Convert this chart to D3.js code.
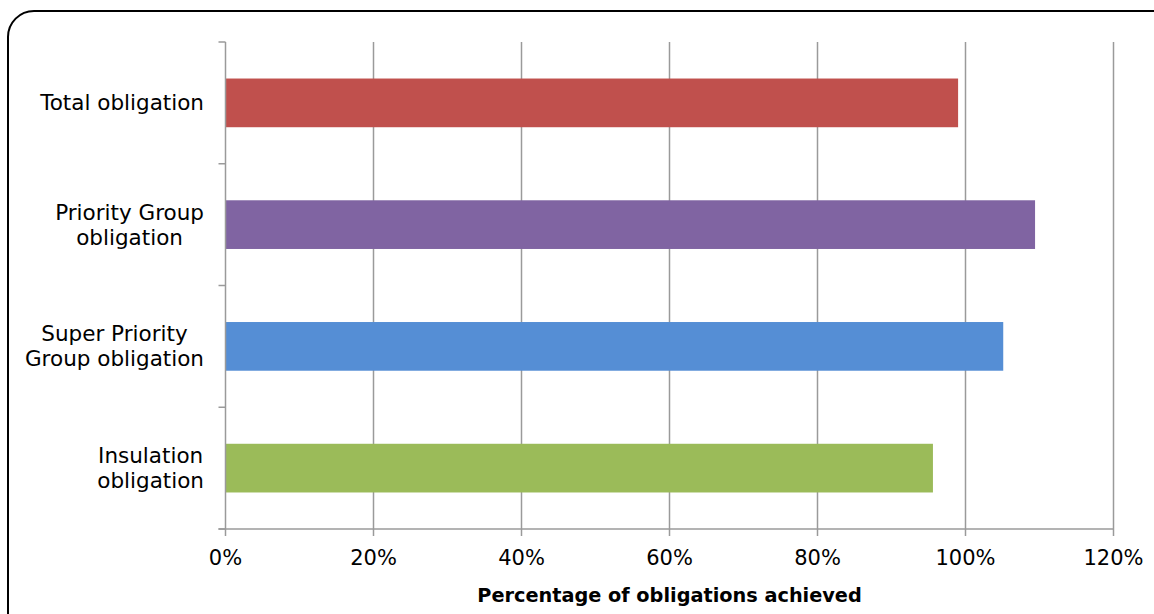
<!DOCTYPE html>
<html>
<head>
<meta charset="utf-8">
<script src="https://cdn.jsdelivr.net/npm/d3@7"></script>
<style>
  html, body { margin: 0; padding: 0; background: #fff; }
  svg { display: block; font-family: "DejaVu Sans", Verdana, sans-serif; }
</style>
</head>
<body>
<svg id="chart" width="1154" height="614"></svg>
<script>
// Obligation categories (top to bottom) with their line breaks
const categories = ["Total obligation", "Priority Group obligation", "Super Priority Group obligation", "Insulation obligation"];
const labelLines = [["Total obligation"], ["Priority Group", "obligation"], ["Super Priority", "Group obligation"], ["Insulation", "obligation"]];
// Percentage of each obligation achieved
const achieved = [99.0, 109.4, 105.1, 95.6];
const barColors = ["#C0504D", "#8064A2", "#558ED5", "#9BBB59"];
const xTicks = [0, 20, 40, 60, 80, 100, 120];
const xTitle = "Percentage of obligations achieved";

const svg = d3.select("#chart");
const margin = { left: 225.5, right: 1113.5, top: 42, bottom: 529 };
const gridColor = "#9a9a9a";

// Rounded outer frame
svg.append("rect")
  .attr("x", 8).attr("y", 11)
  .attr("width", 1170).attr("height", 640)
  .attr("rx", 26).attr("ry", 26)
  .attr("fill", "none").attr("stroke", "#000").attr("stroke-width", 2);

const x = d3.scaleLinear().domain([0, 120]).range([margin.left, margin.right]);
const y = d3.scaleBand().domain(categories).range([margin.top, margin.bottom]).paddingInner(0.6).paddingOuter(0.3);
const yEdges = d3.scaleLinear().domain([0, categories.length]).range([margin.top, margin.bottom]);

// Vertical gridlines
svg.append("g").selectAll("line")
  .data(xTicks.filter(t => t > 0))
  .join("line")
  .attr("x1", d => x(d)).attr("x2", d => x(d))
  .attr("y1", margin.top).attr("y2", margin.bottom)
  .attr("stroke", gridColor).attr("stroke-width", 1.5);

// Bars
svg.append("g").selectAll("rect")
  .data(categories)
  .join("rect")
  .attr("x", x(0))
  .attr("y", d => y(d))
  .attr("width", (d, i) => x(achieved[i]) - x(0))
  .attr("height", y.bandwidth())
  .attr("fill", (d, i) => barColors[i]);

// Y axis line with boundary ticks
const yAxis = svg.append("g");
yAxis.append("line")
  .attr("x1", x(0)).attr("x2", x(0))
  .attr("y1", margin.top).attr("y2", margin.bottom)
  .attr("stroke", gridColor).attr("stroke-width", 1.5);
yAxis.selectAll("line.tick")
  .data(d3.range(categories.length + 1))
  .join("line").attr("class", "tick")
  .attr("x1", x(0) - 7).attr("x2", x(0))
  .attr("y1", d => yEdges(d)).attr("y2", d => yEdges(d))
  .attr("stroke", gridColor).attr("stroke-width", 1.5);

// X axis line with ticks
const xAxis = svg.append("g");
xAxis.append("line")
  .attr("x1", x(0) - 7).attr("x2", x(120))
  .attr("y1", margin.bottom).attr("y2", margin.bottom)
  .attr("stroke", gridColor).attr("stroke-width", 1.5);
xAxis.selectAll("line.tick")
  .data(xTicks)
  .join("line").attr("class", "tick")
  .attr("x1", d => x(d)).attr("x2", d => x(d))
  .attr("y1", margin.bottom).attr("y2", margin.bottom + 7)
  .attr("stroke", gridColor).attr("stroke-width", 1.5);
xAxis.selectAll("text")
  .data(xTicks)
  .join("text")
  .attr("x", d => x(d)).attr("y", 565)
  .attr("text-anchor", "middle")
  .attr("font-size", 21).attr("fill", "#000")
  .text(d => d + "%");

// Category labels: lines centred within a right-aligned block
const fontSize = 21.5, lineGap = 25, labelRight = 204;
categories.forEach((c, i) => {
  const lines = labelLines[i];
  const g = svg.append("g");
  const texts = lines.map((ln, j) => g.append("text")
    .attr("font-size", fontSize).attr("fill", "#000")
    .attr("text-anchor", "middle")
    .attr("y", y(c) + y.bandwidth() / 2 + (j - (lines.length - 1) / 2) * lineGap + 7.5)
    .text(ln));
  const w = d3.max(texts, t => t.node().getComputedTextLength());
  texts.forEach(t => t.attr("x", labelRight - w / 2));
});

// Axis title
svg.append("text")
  .attr("x", (x(0) + x(120)) / 2).attr("y", 602)
  .attr("text-anchor", "middle")
  .attr("font-size", 19.3).attr("font-weight", "bold").attr("fill", "#000")
  .text(xTitle);
</script>
</body>
</html>
